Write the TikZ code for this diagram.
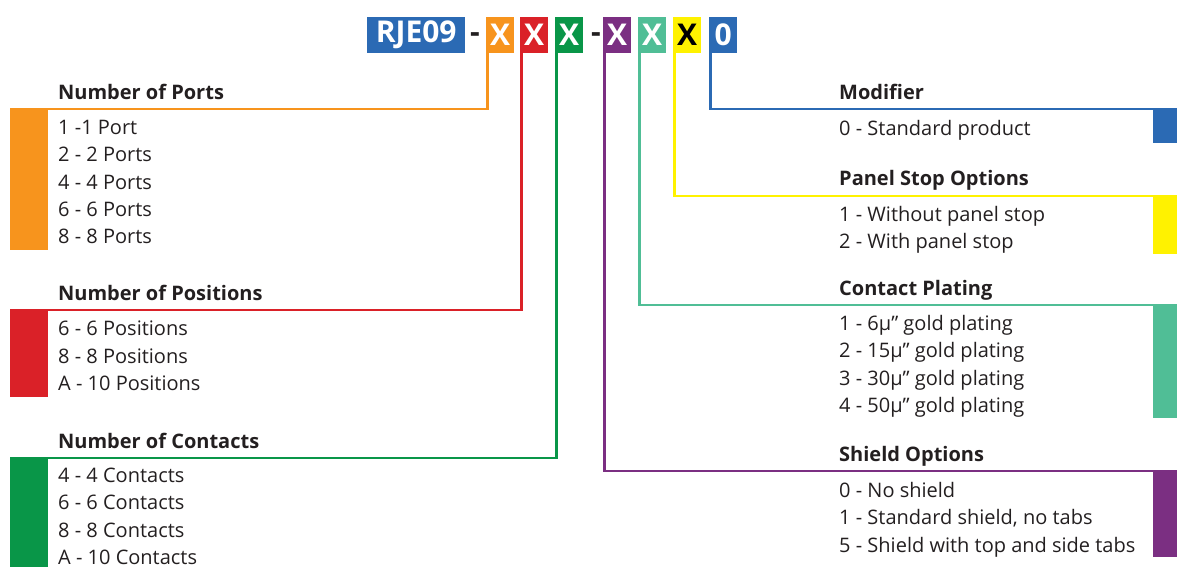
\documentclass[tikz,border=0pt]{standalone}
\usepackage{fontspec}
\setmainfont{Open Sans}
\usetikzlibrary{positioning}
\definecolor{codeblue}{RGB}{43,106,180}
\definecolor{codeorange}{RGB}{247,148,29}
\definecolor{codered}{RGB}{218,33,40}
\definecolor{codegreen}{RGB}{9,150,72}
\definecolor{codepurple}{RGB}{123,47,130}
\definecolor{codeteal}{RGB}{80,190,150}
\definecolor{codeyellow}{RGB}{255,242,0}
\definecolor{codetext}{RGB}{35,31,32}
\tikzset{
  codebox/.style={fill=#1,text=white,font=\fontsize{30}{30}\selectfont\bfseries,
    inner sep=0pt,minimum height=36pt,minimum width=28pt,anchor=north west},
  optbar/.style={fill=#1,inner sep=0pt,anchor=north west},
  lead/.style={draw=#1,line width=2.4pt},
  grouptitle/.style={anchor=base west,font=\fontsize{20}{20}\selectfont\bfseries,
    text=codetext,inner sep=0pt},
  itemlist/.style={anchor=north west,align=left,font=\fontsize{20}{27.3}\selectfont,
    text=codetext,inner sep=0pt},
}

\begin{document}
\begin{tikzpicture}[x=1pt,y=-1pt]
\useasboundingbox (0,0) rectangle (1177,566);
% part number
\node[codebox=codeblue,minimum width=98pt] (rje) at (367,17) {RJE09};
\node[font=\fontsize{30}{30}\selectfont\bfseries,text=codetext] (dashA) at (475,38) {-};
\node[codebox=codeorange] (cport) at (486,17) {X};
\node[codebox=codered] (cpos) at (520,17) {X};
\node[codebox=codegreen] (ccont) at (555,17) {X};
\node[font=\fontsize{30}{30}\selectfont\bfseries,text=codetext] (dashB) at (596,38) {-};
\node[codebox=codepurple] (cshield) at (603,17) {X};
\node[codebox=codeteal] (cplate) at (638,17) {X};
\node[codebox=codeyellow,text=black] (cstop) at (673,17) {X};
\node[codebox=codeblue] (cmod) at (709,17) {0};

% left hand groups
\node[optbar=codeorange,minimum width=38pt,minimum height=141pt] (portbar) at (10,109) {};
\node[grouptitle] (porttitle) at (58,99) {Number of Ports};
\node[itemlist] (portlist) at (58,120) {1 -1 Port\\2 - 2 Ports\\4 - 4 Ports\\6 - 6 Ports\\8 - 8 Ports};

\node[optbar=codered,minimum width=38pt,minimum height=87pt] (posbar) at (10,310) {};
\node[grouptitle] (postitle) at (58,300) {Number of Positions};
\node[itemlist] (poslist) at (58,321) {6 - 6 Positions\\8 - 8 Positions\\A - 10 Positions};

\node[optbar=codegreen,minimum width=38pt,minimum height=110pt] (contbar) at (10,458) {};
\node[grouptitle] (conttitle) at (58,448) {Number of Contacts};
\node[itemlist] (contlist) at (58,468) {4 - 4 Contacts\\6 - 6 Contacts\\8 - 8 Contacts\\A - 10 Contacts};

% right hand groups
\node[optbar=codeblue,minimum width=24pt,minimum height=34pt] (modbar) at (1153,109) {};
\node[grouptitle] (modtitle) at (839,99) {Modifier};
\node[itemlist] (modlist) at (839,120) {0 - Standard product};

\node[optbar=codeyellow,minimum width=24pt,minimum height=58pt] (stopbar) at (1153,196) {};
\node[grouptitle] (stoptitle) at (839,185) {Panel Stop Options};
\node[itemlist] (stoplist) at (839,206) {1 - Without panel stop\\2 - With panel stop};

\node[optbar=codeteal,minimum width=24pt,minimum height=113pt] (platebar) at (1153,305) {};
\node[grouptitle] (platetitle) at (839,295) {Contact Plating};
\node[itemlist] (platelist) at (839,315) {1 - 6µ” gold plating\\2 - 15µ” gold plating\\3 - 30µ” gold plating\\4 - 50µ” gold plating};

\node[optbar=codepurple,minimum width=24pt,minimum height=86pt] (shieldbar) at (1153,471) {};
\node[grouptitle] (shieldtitle) at (839,461) {Shield Options};
\node[itemlist] (shieldlist) at (839,482) {0 - No shield\\1 - Standard shield, no tabs\\5 - Shield with top and side tabs};

% leaders
\draw[lead=codeorange] ([xshift=1.5pt]cport.south west) |- (portbar.north west);
\draw[lead=codered] ([xshift=1.5pt]cpos.south west) |- (posbar.north west);
\draw[lead=codegreen] ([xshift=1.5pt]ccont.south west) |- (contbar.north west);
\draw[lead=codepurple] ([xshift=1.5pt]cshield.south west) |- (shieldbar.north east);
\draw[lead=codeteal] ([xshift=1.5pt]cplate.south west) |- (platebar.north east);
\draw[lead=codeyellow] ([xshift=1.5pt]cstop.south west) |- (stopbar.north east);
\draw[lead=codeblue] ([xshift=1.5pt]cmod.south west) |- (modbar.north east);
\end{tikzpicture}
\end{document}
